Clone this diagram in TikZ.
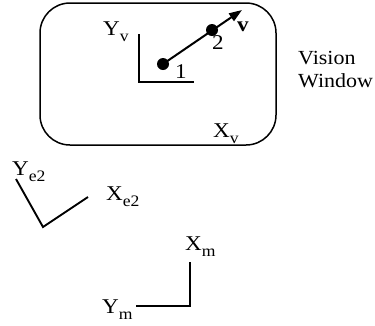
\documentclass[tikz,border=0pt]{standalone}
\usepackage{fontspec}
\setmainfont{Liberation Serif}[FakeStretch=1.1]
\usetikzlibrary{arrows.meta}
\newcommand\sbs[1]{\raisebox{-0.3em}{\fontsize{16}{16}\selectfont #1}}
\begin{document}
\begin{tikzpicture}[x=1pt,y=-1pt,
  lbl/.style={anchor=base west,inner sep=0pt,font=\fontsize{21}{23}\selectfont},
  ax/.style={line width=1.9pt},
  dot/.style={circle,fill=black,inner sep=0pt,minimum size=12pt}]
\useasboundingbox (0,0) rectangle (375,325);
% vision window
\draw[line width=1.5pt,rounded corners=30pt] (40,3) rectangle (276,145);
% vision axes
\coordinate (yvtop) at (139,34);
\coordinate (vo) at (139,82);
\coordinate (xvend) at (194,82);
\draw[ax] (yvtop) -- (vo) -- (xvend);
\node[lbl] (Yv) at (103,35) {Y\sbs{v}};
\node[lbl] (Xv) at (213,137) {X\sbs{v}};
% points and vector
\node[dot] (p1) at (163,64) {};
\node[dot] (p2) at (212,30) {};
\coordinate (tip) at (242,10);
\draw[line width=2pt,-{Triangle[length=13pt,width=9pt]}] (p1.center) -- (tip);
\node[lbl] (n1) at (175,78) {1};
\node[lbl] (n2) at (212,49) {2};
\node[lbl] (vv) at (237,31) {\textbf{v}};
\node[lbl,align=left,anchor=north west,font=\fontsize{20}{23}\selectfont] (vw) at (298,51) {Vision\\Window};
% e2 axes
\coordinate (ye2) at (16,179);
\coordinate (e2o) at (43,227);
\coordinate (xe2) at (88,197);
\draw[ax] (ye2) -- (e2o) -- (xe2);
\node[lbl] (Ye2) at (12,175) {Y\sbs{e2}};
\node[lbl] (Xe2) at (106,200) {X\sbs{e2}};
% m axes
\coordinate (xm) at (190,262);
\coordinate (mo) at (190,306);
\coordinate (ym) at (136,306);
\draw[ax] (xm) -- (mo) -- (ym);
\node[lbl] (Xm) at (185,250) {X\sbs{m}};
\node[lbl] (Ym) at (102,313) {Y\sbs{m}};
\end{tikzpicture}
\end{document}
